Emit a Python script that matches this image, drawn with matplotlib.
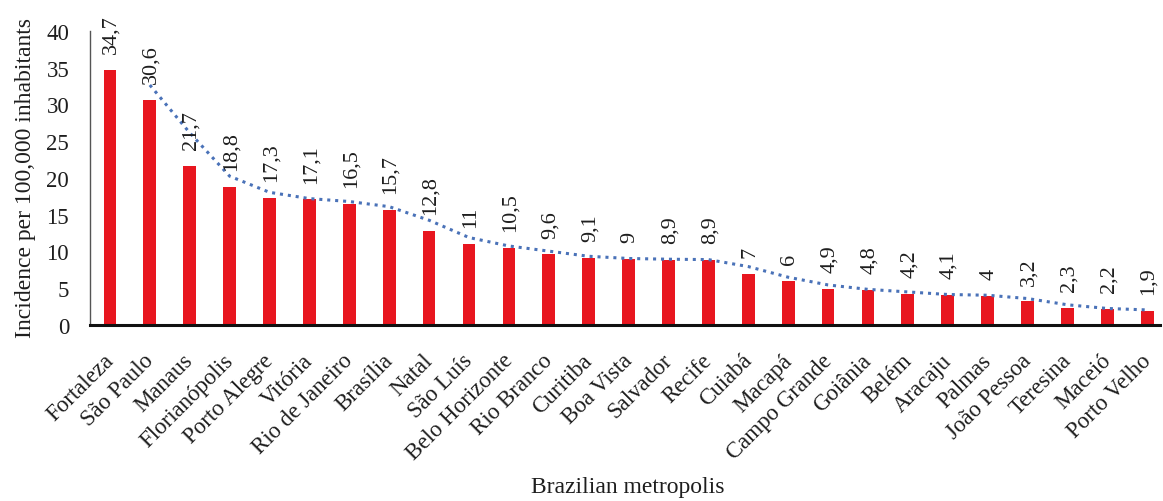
import matplotlib
matplotlib.use("Agg")
import matplotlib.pyplot as plt
import matplotlib.transforms as mtransforms
import numpy as np
import pandas as pd

cities = ["Fortaleza", "São Paulo", "Manaus", "Florianópolis", "Porto Alegre",
          "Vitória", "Rio de Janeiro", "Brasília", "Natal", "São Luís",
          "Belo Horizonte", "Rio Branco", "Curitiba", "Boa Vista", "Salvador",
          "Recife", "Cuiabá", "Macapá", "Campo Grande", "Goiânia", "Belém",
          "Aracaju", "Palmas", "João Pessoa", "Teresina", "Maceió", "Porto Velho"]
incidence = [34.7, 30.6, 21.7, 18.8, 17.3, 17.1, 16.5, 15.7, 12.8, 11, 10.5,
             9.6, 9.1, 9, 8.9, 8.9, 7, 6, 4.9, 4.8, 4.2, 4.1, 4, 3.2, 2.3, 2.2, 1.9]
y_ticks = [0, 5, 10, 15, 20, 25, 30, 35, 40]

plt.rcParams["font.family"] = ["Liberation Serif", "DejaVu Serif"]
TEXT = "#1e1e1e"

fig = plt.figure(figsize=(11.63, 5.02), dpi=100)
ax = fig.add_axes([90 / 1163, 176 / 502, (1160 - 90) / 1163, (326 - 32) / 502])

x = np.arange(len(cities))
ax.bar(x, incidence, width=0.32, color="#E8161F", zorder=2)

# two-period moving average trendline
trend = pd.Series(incidence).rolling(2).mean()
ax.plot(x, trend, linestyle=(0, (1, 1.6)), color="#4A72B8", linewidth=2.2, zorder=3)

def fmt(v):
    return f"{v:g}".replace(".", ",")

for xi, v in zip(x, incidence):
    ax.annotate(fmt(v), (xi, v), xytext=(1, 12), textcoords="offset points",
                rotation=90, ha="center", va="bottom", fontsize=16,
                color=TEXT, annotation_clip=False)

ax.set_xlim(-0.5, 26.32)
ax.set_ylim(0, 40)
ax.set_yticks(y_ticks)
ax.set_yticklabels([str(t) for t in y_ticks], fontsize=16.5, color=TEXT)
ax.set_xticks(x)
ax.set_xticklabels(cities, rotation=45, ha="right", rotation_mode="anchor",
                   fontsize=16.5, color=TEXT)
ax.tick_params(axis="both", length=0)
ax.tick_params(axis="y", pad=15)
ax.tick_params(axis="x", pad=4)

shift = mtransforms.ScaledTranslation(-7 / 100, -19 / 100, fig.dpi_scale_trans)
for lbl in ax.get_xticklabels():
    lbl.set_transform(lbl.get_transform() + shift)

for side in ("top", "right"):
    ax.spines[side].set_visible(False)
ax.spines["left"].set_color("#555555")
ax.spines["left"].set_linewidth(1.0)
ax.spines["bottom"].set_color("#111111")
ax.spines["bottom"].set_linewidth(2.2)

fig.text(26 / 1163, 1 - 178 / 502, "Incidence per 100,000 inhabitants",
         rotation=90, ha="center", va="center", fontsize=17, color=TEXT)
fig.text(628 / 1163, 1 - 488 / 502, "Brazilian metropolis", ha="center",
         va="center", fontsize=17, color=TEXT)

fig.savefig("out.png", dpi=100)
